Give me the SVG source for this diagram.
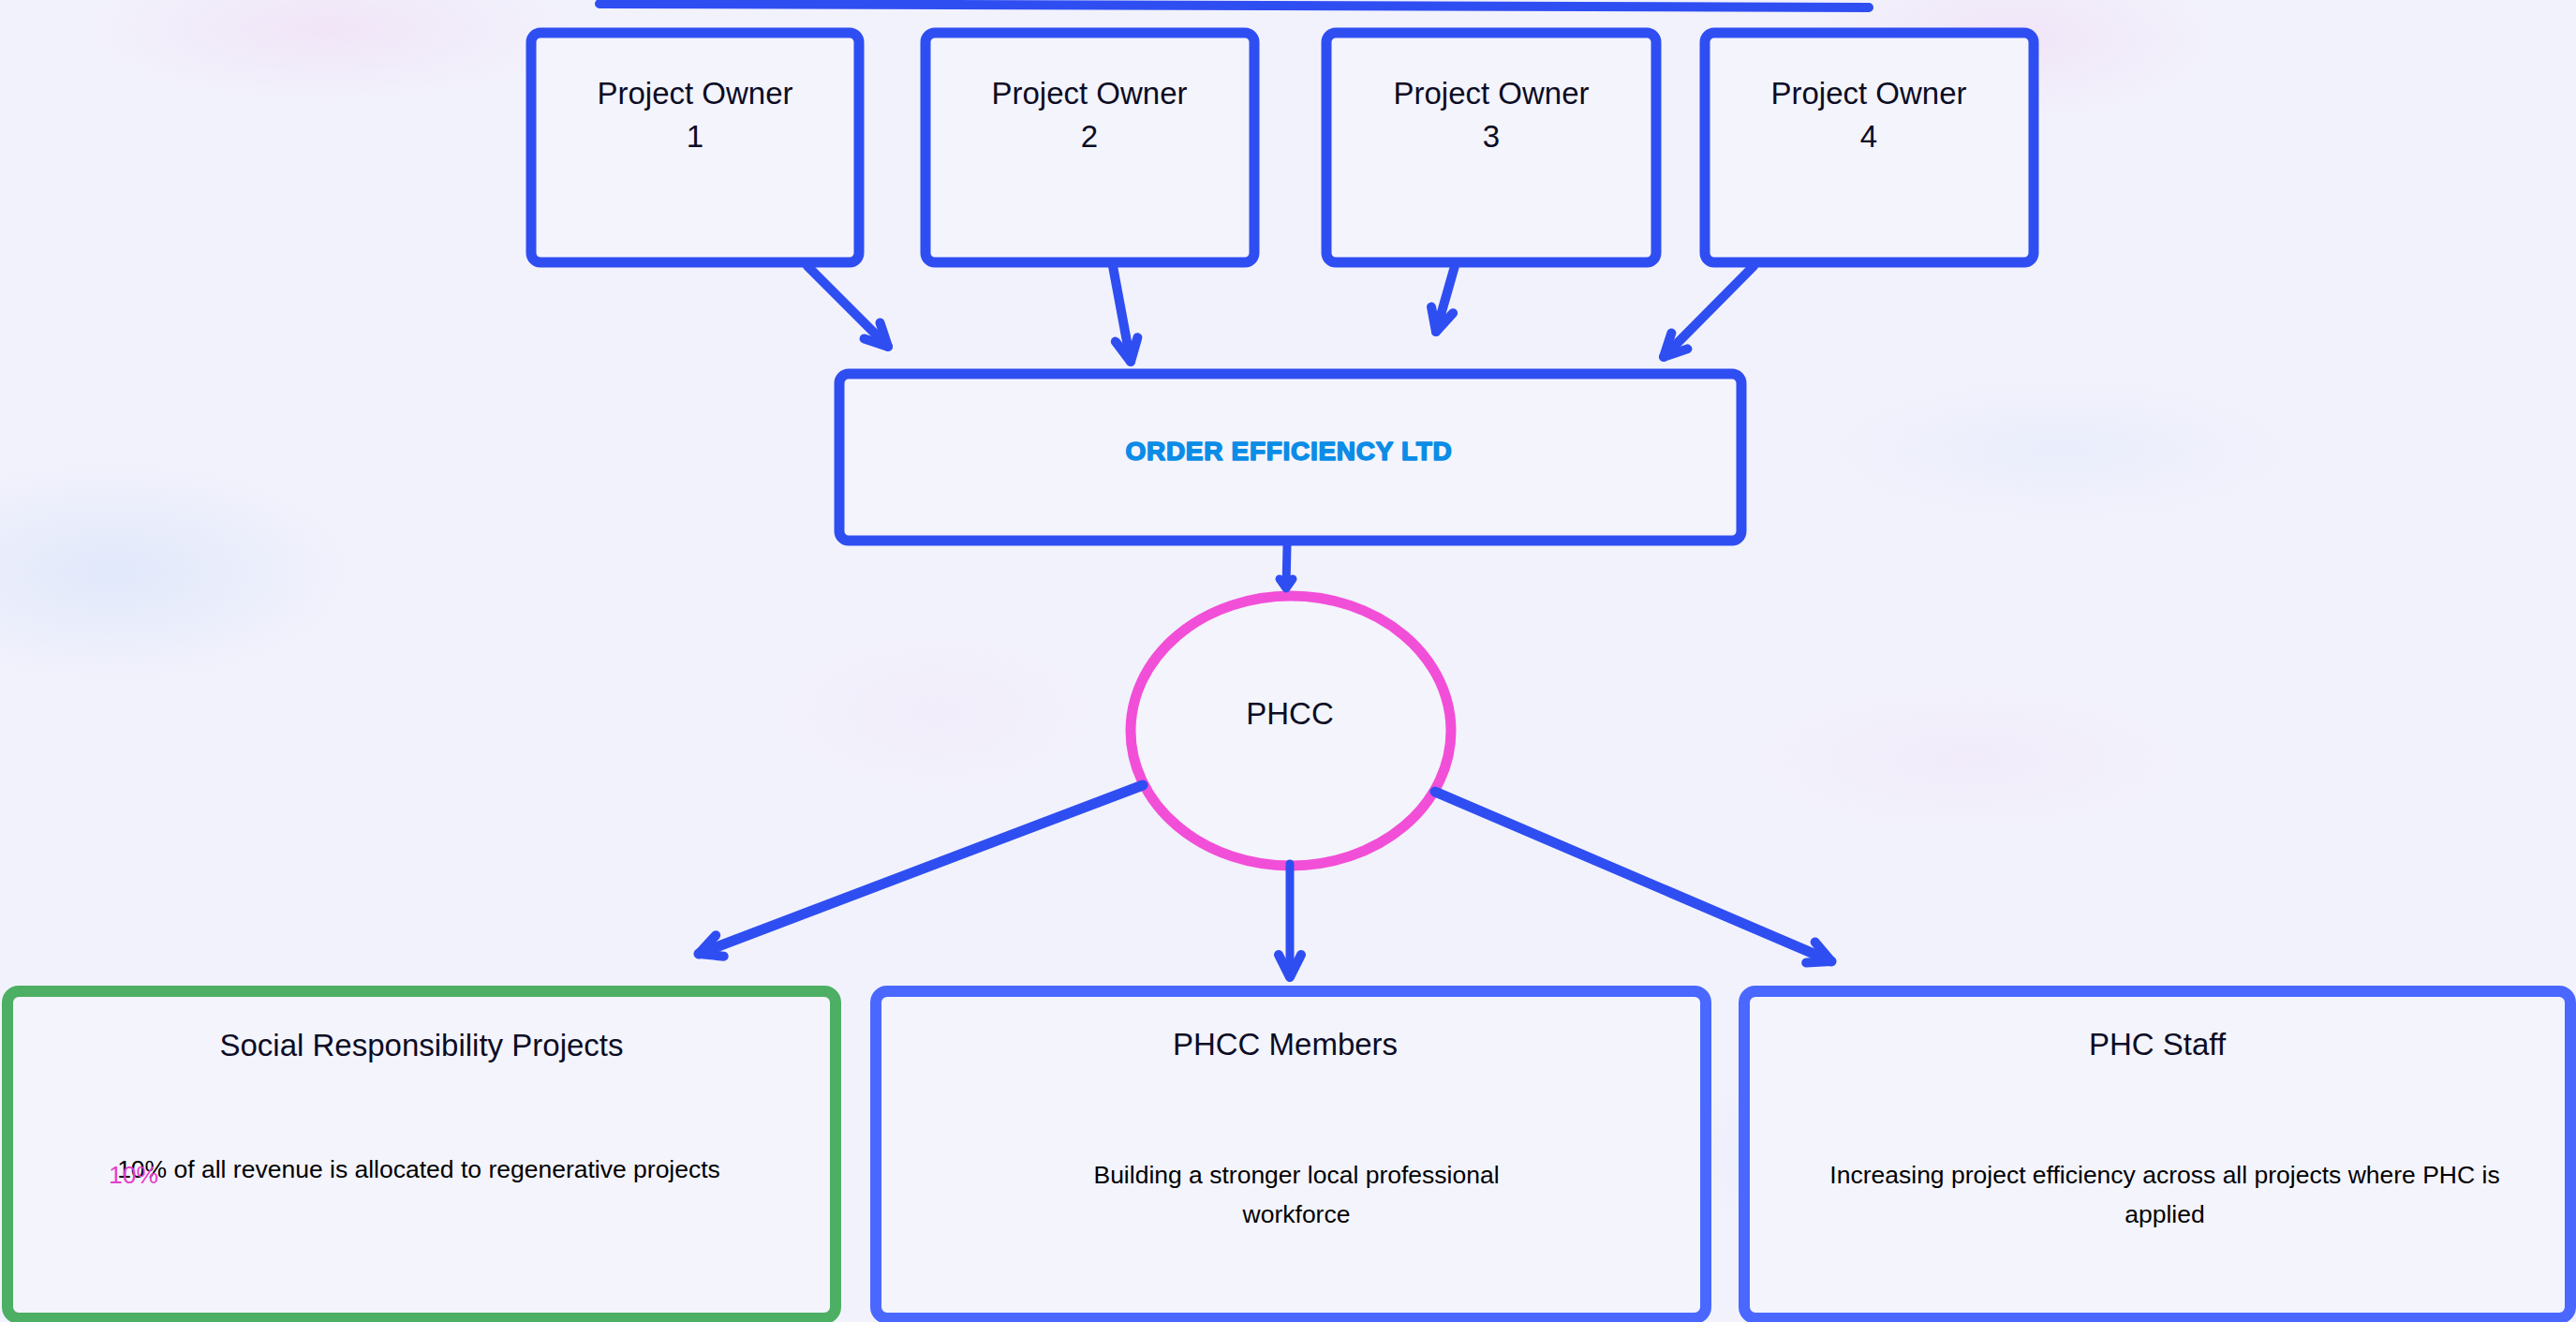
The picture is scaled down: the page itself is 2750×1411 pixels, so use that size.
<svg xmlns="http://www.w3.org/2000/svg" width="2750" height="1411" viewBox="0 0 2750 1411">
  <style>
    .box { fill: #f4f4fd; stroke: #2f4ef2; stroke-width: 11; }
    .bbox { fill: #f4f4fd; stroke: #4a68ff; stroke-width: 12; }
    .gbox { fill: #f4f4fd; stroke: #4caf63; stroke-width: 12; }
    .t { font-family: "Liberation Sans", Arial, sans-serif; fill: #0c0c24; text-anchor: middle; }
    .title { font-size: 33px; }
    .body { font-size: 26.5px; fill: #000; }
    .conn { stroke: #2f4ef2; fill: none; stroke-linecap: round; }
  </style>
  <defs>
    <marker id="ah" markerUnits="userSpaceOnUse" viewBox="-32 -18 40 36" refX="0" refY="0" markerWidth="40" markerHeight="36" orient="auto" overflow="visible">
      <path d="M-24,-12 L0,0 L-24,12" fill="none" stroke="#2f4ef2" stroke-width="10" stroke-linecap="round" stroke-linejoin="round"/>
      <path d="M-18,-8 L0,0 L-18,8 Z" fill="#2f4ef2"/>
    </marker>
    <radialGradient id="gp" cx="50%" cy="50%" r="50%">
      <stop offset="0" stop-color="#f0dcf4" stop-opacity="0.6"/>
      <stop offset="1" stop-color="#f0dcf4" stop-opacity="0"/>
    </radialGradient>
    <radialGradient id="gb" cx="50%" cy="50%" r="50%">
      <stop offset="0" stop-color="#dde6fa" stop-opacity="0.8"/>
      <stop offset="1" stop-color="#dde6fa" stop-opacity="0"/>
    </radialGradient>
  </defs>

  <rect x="0" y="0" width="2750" height="1411" fill="#f2f2fc"/>
  <ellipse cx="350" cy="30" rx="260" ry="80" fill="url(#gp)"/>
  <ellipse cx="2150" cy="40" rx="220" ry="90" fill="url(#gp)"/>
  <ellipse cx="120" cy="610" rx="260" ry="120" fill="url(#gb)"/>
  <ellipse cx="2200" cy="480" rx="260" ry="80" fill="url(#gb)" opacity="0.5"/>
  <ellipse cx="2100" cy="810" rx="240" ry="80" fill="url(#gp)" opacity="0.5"/>
  <ellipse cx="2000" cy="1230" rx="200" ry="110" fill="url(#gb)"/>
  <ellipse cx="1000" cy="760" rx="180" ry="90" fill="url(#gp)" opacity="0.4"/>

  <line class="conn" x1="640" y1="4" x2="1995" y2="8" stroke-width="10"/>

  <g id="owner1">
    <rect class="box" x="567" y="35" width="350" height="245" rx="10"/>
    <text class="t title" x="742" y="111">Project Owner</text>
    <text class="t title" x="742" y="157">1</text>
  </g>
  <g id="owner2">
    <rect class="box" x="988" y="35" width="351" height="245" rx="10"/>
    <text class="t title" x="1163" y="111">Project Owner</text>
    <text class="t title" x="1163" y="157">2</text>
  </g>
  <g id="owner3">
    <rect class="box" x="1416" y="35" width="352" height="245" rx="10"/>
    <text class="t title" x="1592" y="111">Project Owner</text>
    <text class="t title" x="1592" y="157">3</text>
  </g>
  <g id="owner4">
    <rect class="box" x="1820" y="35" width="351" height="245" rx="10"/>
    <text class="t title" x="1995" y="111">Project Owner</text>
    <text class="t title" x="1995" y="157">4</text>
  </g>

  <g id="order-efficiency">
    <rect class="box" x="896" y="399" width="963" height="178" rx="10"/>
    <text x="1376" y="491" font-family="Liberation Sans, Arial, sans-serif" font-weight="bold" font-size="28" letter-spacing="0.7" fill="#0b8ce6" stroke="#0b8ce6" stroke-width="1.6" stroke-linejoin="round" text-anchor="middle">ORDER EFFICIENCY LTD</text>
  </g>

  <g id="phcc">
    <ellipse cx="1378" cy="780" rx="171" ry="144" fill="#f4f4fd" stroke="#f24fd8" stroke-width="11"/>
    <text class="t title" x="1377" y="773">PHCC</text>
  </g>

  <g id="social">
    <rect class="gbox" x="8" y="1058" width="884" height="349" rx="12"/>
    <text class="t title" x="450" y="1127">Social Responsibility Projects</text>
    <text class="t body" x="447" y="1257">10% of all revenue is allocated to regenerative projects</text>
    <text x="116" y="1263" font-family="Liberation Sans, Arial, sans-serif" font-size="26.5" fill="#e63fcb">10%</text>
  </g>
  <g id="members">
    <rect class="bbox" x="935" y="1058" width="886" height="349" rx="12"/>
    <text class="t title" x="1372" y="1126">PHCC Members</text>
    <text class="t body" x="1384" y="1263">Building a stronger local professional</text>
    <text class="t body" x="1384" y="1305">workforce</text>
  </g>
  <g id="staff">
    <rect class="bbox" x="1862" y="1058" width="882" height="349" rx="12"/>
    <text class="t title" x="2303" y="1126">PHC Staff</text>
    <text class="t body" x="2311" y="1263">Increasing project efficiency across all projects where PHC is</text>
    <text class="t body" x="2311" y="1305">applied</text>
  </g>

  <g id="connectors">
    <line class="conn" x1="862" y1="284" x2="948" y2="370" stroke-width="10" marker-end="url(#ah)"/>
    <line class="conn" x1="1188" y1="284" x2="1207" y2="386" stroke-width="10" marker-end="url(#ah)"/>
    <line class="conn" x1="1553" y1="284" x2="1533" y2="354" stroke-width="10" marker-end="url(#ah)"/>
    <line class="conn" x1="1872" y1="284" x2="1776" y2="381" stroke-width="10" marker-end="url(#ah)"/>
    <line class="conn" x1="1374" y1="583" x2="1373" y2="626" stroke-width="9"/>
    <path d="M1366,618 L1373,628 L1380,618" fill="none" stroke="#2f4ef2" stroke-width="9" stroke-linecap="round" stroke-linejoin="round"/>
    <line class="conn" x1="1220" y1="838" x2="746" y2="1018" stroke-width="11" marker-end="url(#ah)"/>
    <line class="conn" x1="1377" y1="922" x2="1377" y2="1043" stroke-width="9" marker-end="url(#ah)"/>
    <line class="conn" x1="1532" y1="845" x2="1955" y2="1026" stroke-width="11" marker-end="url(#ah)"/>
  </g>
</svg>
